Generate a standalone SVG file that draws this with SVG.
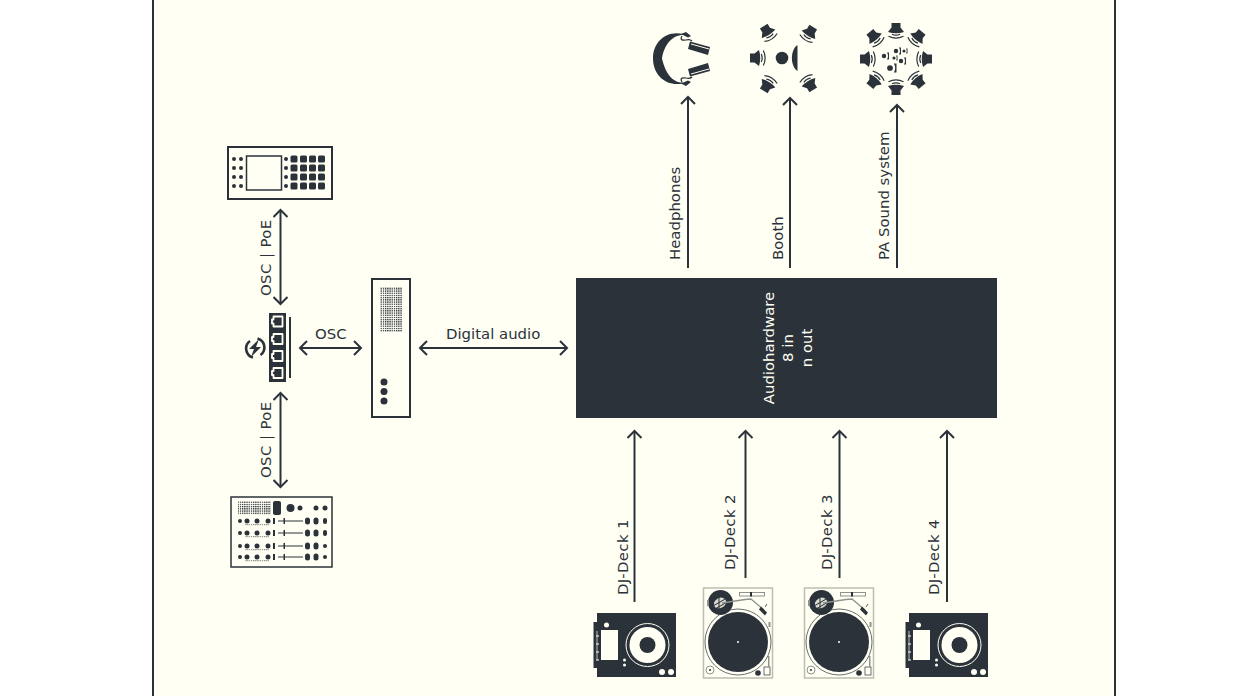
<svg xmlns="http://www.w3.org/2000/svg" width="1238" height="696" viewBox="0 0 1238 696">
<style>
text{font-family:"DejaVu Sans","Open Sans",sans-serif;font-size:14.9px;fill:#2b323a}
.ls{letter-spacing:.4px}
.f{fill:#2b323a}
.w{fill:#fffff3}
.s{fill:none;stroke:#2b323a;stroke-width:2}
.t{fill:none;stroke:#2b323a;stroke-width:1.200}
.wl{fill:none;stroke:#fffff3;stroke-width:1}
.c{fill:none;stroke:#2b323a;stroke-width:2;marker-end:url(#h)}
.d{fill:none;stroke:#2b323a;stroke-width:2;marker-start:url(#hs);marker-end:url(#h)}
</style>
<defs>
<marker id="h" markerUnits="userSpaceOnUse" markerWidth="14" markerHeight="16" refX="9" refY="8" orient="auto"><path d="M2 1L9 8L2 15" fill="none" stroke="#2b323a" stroke-width="2"/></marker>
<marker id="hs" markerUnits="userSpaceOnUse" markerWidth="14" markerHeight="16" refX="9" refY="8" orient="auto-start-reverse"><path d="M2 1L9 8L2 15" fill="none" stroke="#2b323a" stroke-width="2"/></marker>
<pattern id="grid" width="2.2" height="2.2" patternUnits="userSpaceOnUse"><rect width="1.3" height="1.3" fill="#2b323a"/></pattern>
<g id="spk"><path class="f" d="M-8-4.500L-3.500-4.500L1-8Q3.500 0 1 8L-3.500 4.500L-8 4.500Z"/><path class="t" d="M3.300-4Q5.100 0 3.300 4M5.300-7.500Q9 0 5.300 7.500"/></g>
<g id="per"><circle class="f" cx="0" cy="0" r="2.200"/><path class="f" d="M3-3.500Q5 0 3 3.500L5 3.500L5-3.500Z"/></g>
<g id="tt">
<rect x="703.500" y="588" width="69" height="90" fill="none" stroke="#bdbdb0" stroke-width="1.500"/>
<circle class="f" cx="738" cy="642" r="30"/>
<circle cx="738" cy="642" r="33" fill="none" stroke="#2b323a" stroke-width=".7"/>
<circle class="w" cx="738" cy="642" r="1"/>
<circle class="f" cx="720.500" cy="602.500" r="12.500"/>
<ellipse cx="720" cy="603" rx="6.500" ry="5" fill="#d9dad0" transform="rotate(-30 720 603)"/>
<path d="M713 606L727 598M715 609L729 601M719 596V610" fill="none" stroke="#2b323a" stroke-width="1"/>
<rect x="707" y="600" width="2" height="6" fill="#8f938f"/>
<path d="M722 603L745 599.500L751 599L764 610" fill="none" stroke="#8f938f" stroke-width="1.300"/>
<path class="f" d="M761 606.500L767 612.500L765 615.500L759 609.500Z"/>
<path d="M765 607L767 604" stroke="#2b323a" stroke-width=".8"/>
<rect x="739.500" y="592.500" width="25" height="3.500" fill="none" stroke="#8f938f" stroke-width="1"/>
<rect x="750" y="592" width="2" height="4.500" class="f"/>
<circle cx="710" cy="670" r="4" fill="none" stroke="#8f938f" stroke-width="1"/><circle cx="710" cy="670" r="1" class="f"/>
<circle class="f" cx="758" cy="673" r="2.800"/>
<rect x="764" y="667" width="6" height="8" fill="none" stroke="#2b323a" stroke-width=".7"/>
<rect x="768" y="656" width="1.500" height="11" fill="#8f938f"/>
<rect x="768.500" y="622" width="2" height="5" fill="#8f938f"/>
</g>
<g id="cdj">
<path class="f" d="M597 613H676V677H597V668H593.500V622H597Z"/>
<rect class="w" x="601" y="630" width="17" height="30"/>
<path d="M596 636H599M596 644H599M596 652H599M596 660H599" stroke="#fffff3" stroke-width="1.200"/>
<path d="M597 631V660" stroke="#fffff3" stroke-width=".7"/>
<circle class="w" cx="606.500" cy="625" r="2.500"/>
<circle cx="647.500" cy="645" r="21.500" fill="none" stroke="#fffff3" stroke-width="1"/>
<circle class="w" cx="647.500" cy="645" r="18"/>
<circle class="f" cx="647.500" cy="645" r="8"/>
<circle class="w" cx="624.500" cy="660" r="1.500"/><circle class="w" cx="624.500" cy="665" r="1.500"/>
<circle class="w" cx="662" cy="672" r="3"/><circle class="w" cx="671" cy="672" r="3"/>
</g>
<g id="row">
<circle class="f" cx="240" cy="0" r="2"/><circle class="f" cx="247" cy="0" r="2.500"/><circle class="f" cx="257" cy="0" r="2.500"/><circle class="f" cx="268" cy="0" r="2.500"/>
<rect class="f" x="273" y="-3" width="2" height="6"/>
<path d="M278 0H303" stroke="#2b323a" stroke-width="1"/><rect class="f" x="283.500" y="-3" width="1.500" height="6"/>
<rect class="f" x="305" y="-3.500" width="5" height="7" rx="2.500"/><rect class="f" x="313.500" y="-3.500" width="5" height="7" rx="2.500"/>
<rect x="245" y="3" width="24" height="1.200" fill="url(#grid)"/>
</g>
<g id="port"><path d="M-4-5H5V5H-4V2H-5.500V-2H-4Z" fill="#2b323a" stroke="#fffff3" stroke-width="1.800" stroke-linejoin="round"/></g>
</defs>

<rect x="0" y="0" width="1238" height="696" fill="#ffffff"/>
<rect x="153" y="-10" width="962" height="716" fill="#fffff3" stroke="#2b323a" stroke-width="2"/>

<g id="connectors">
<path class="c" d="M688 268V97"/>
<path class="c" d="M790 268V98"/>
<path class="c" d="M897 268V105"/>
<path class="c" d="M634.500 602V431"/>
<path class="c" d="M745.500 578V431"/>
<path class="c" d="M839.500 578V431"/>
<path class="c" d="M947 602V431"/>
<path class="d" d="M280.500 304V210"/>
<path class="d" d="M280.500 487V393"/>
<path class="d" d="M361 348H300"/>
<path class="d" d="M567 348H420"/>
</g>
<g id="connector-labels">
<text class="ls" transform="translate(271 296) rotate(-90)">OSC | PoE</text>
<text class="ls" transform="translate(271 478) rotate(-90)">OSC | PoE</text>
<text x="315" y="339">OSC</text>
<text x="446" y="339">Digital audio</text>
<text transform="translate(680 260) rotate(-90)">Headphones</text>
<text transform="translate(783 260) rotate(-90)">Booth</text>
<text transform="translate(889 260) rotate(-90)">PA Sound system</text>
<text class="ls" transform="translate(628 595) rotate(-90)">DJ-Deck 1</text>
<text class="ls" transform="translate(735 570) rotate(-90)">DJ-Deck 2</text>
<text class="ls" transform="translate(832 570) rotate(-90)">DJ-Deck 3</text>
<text class="ls" transform="translate(939 595) rotate(-90)">DJ-Deck 4</text>
</g>

<g id="audio-hardware">
<rect class="f" x="576" y="278" width="421" height="140"/>
<g text-anchor="middle">
<text transform="translate(774 348) rotate(-90)" style="fill:#fffff3">Audiohardware</text>
<text transform="translate(793 348) rotate(-90)" style="fill:#fffff3">8 in</text>
<text transform="translate(812 348) rotate(-90)" style="fill:#fffff3">n out</text>
</g>
</g>

<g id="headphones">
<path class="f" d="M683 34C666 30 653 42 653 58.500C653 75 666 87 683 83.500L683 82.500C672 83 665 72 662 58.500C664 45 672 35 683 35Z"/>
<path class="f" d="M681 34L686 32L691 36L688 37.500ZM681 83.500L686 86L691 82L688 80.500Z"/>
<path class="t" d="M682 36Q679 41 686 40Q690 39 692 41M682 82Q679 77 686 78Q690 79 692 77"/>
<path class="f" d="M690 41.500L710 47L708 55L688 49ZM688 69L708 63L710 71L690 76.500Z"/>
<path class="wl" d="M691 44L709 49M691 74L709 69"/>
</g>

<g id="booth">
<use href="#spk" transform="translate(758 58)"/>
<use href="#spk" transform="translate(768 33) rotate(58)"/>
<use href="#spk" transform="translate(809 34) rotate(122)"/>
<use href="#spk" transform="translate(768 84) rotate(-58)"/>
<use href="#spk" transform="translate(809 83) rotate(-122)"/>
<circle class="f" cx="782" cy="58" r="6.300"/>
<path class="f" d="M797.500 45C790 50 790 66 797.500 71Z"/>
</g>

<g id="pa">
<use href="#spk" transform="translate(868 59)"/>
<use href="#spk" transform="translate(924 59) rotate(180)"/>
<use href="#spk" transform="translate(896 31) rotate(90)"/>
<use href="#spk" transform="translate(896 87) rotate(-90)"/>
<use href="#spk" transform="translate(875 38) rotate(50)"/>
<use href="#spk" transform="translate(917 38) rotate(130)"/>
<use href="#spk" transform="translate(875 80) rotate(-50)"/>
<use href="#spk" transform="translate(917 80) rotate(-130)"/>
<use href="#per" transform="translate(884 56)"/>
<use href="#per" transform="translate(894 58) scale(.7)"/>
<use href="#per" transform="translate(896 51)"/>
<use href="#per" transform="translate(904 51) scale(.7)"/>
<use href="#per" transform="translate(901 61)"/>
<use href="#per" transform="translate(890 68) scale(1.300)"/>
</g>

<g id="controller">
<rect x="228" y="147" width="104" height="52" fill="none" stroke="#2b323a" stroke-width="2"/>
<rect x="246.500" y="156" width="35" height="34" fill="none" stroke="#2b323a" stroke-width="1.500"/>
<g class="f">
<circle cx="234" cy="159" r="2"/><circle cx="241" cy="159" r="2"/><circle cx="286" cy="159" r="2"/>
<circle cx="234" cy="168" r="2"/><circle cx="241" cy="168" r="2"/><circle cx="286" cy="168" r="2"/>
<circle cx="234" cy="177" r="2"/><circle cx="241" cy="177" r="2"/><circle cx="286" cy="177" r="2"/>
<circle cx="234" cy="186" r="2"/><circle cx="241" cy="186" r="2"/><circle cx="286" cy="186" r="2"/>
<rect x="290.500" y="155.500" width="7" height="7" rx="1.500"/><rect x="300" y="155.500" width="7" height="7" rx="1.500"/><rect x="309" y="155.500" width="7" height="7" rx="1.500"/><rect x="318" y="155.500" width="7" height="7" rx="1.500"/>
<rect x="290.500" y="164.500" width="7" height="7" rx="1.500"/><rect x="300" y="164.500" width="7" height="7" rx="1.500"/><rect x="309" y="164.500" width="7" height="7" rx="1.500"/><rect x="318" y="164.500" width="7" height="7" rx="1.500"/>
<rect x="290.500" y="173.500" width="7" height="7" rx="1.500"/><rect x="300" y="173.500" width="7" height="7" rx="1.500"/><rect x="309" y="173.500" width="7" height="7" rx="1.500"/><rect x="318" y="173.500" width="7" height="7" rx="1.500"/>
<rect x="290.500" y="182.500" width="7" height="7" rx="1.500"/><rect x="300" y="182.500" width="7" height="7" rx="1.500"/><rect x="309" y="182.500" width="7" height="7" rx="1.500"/><rect x="318" y="182.500" width="7" height="7" rx="1.500"/>
</g>
</g>

<g id="mixer">
<rect x="231" y="497" width="101" height="70" fill="none" stroke="#2b323a" stroke-width="1.500"/>
<rect x="238" y="501" width="33" height="14" fill="url(#grid)"/>
<rect class="f" x="273" y="501" width="8" height="14" rx="2"/>
<circle class="f" cx="290.500" cy="508" r="4"/><circle class="f" cx="300" cy="508" r="2.500"/><circle class="f" cx="316" cy="508" r="2.500"/><circle class="f" cx="325" cy="508" r="2.500"/>
<use href="#row" y="521"/><use href="#row" y="533"/><use href="#row" y="546"/><use href="#row" y="557"/>
<rect class="f" x="323" y="518" width="4" height="6" rx="2"/><rect class="f" x="323" y="530" width="4" height="6" rx="2"/>
<circle class="f" cx="325" cy="546" r="2"/><circle class="f" cx="325" cy="557" r="2"/>
</g>

<g id="switch">
<rect class="f" x="269" y="313" width="17" height="69"/>
<rect class="f" x="289" y="317" width="2" height="61"/>
<use href="#port" transform="translate(277.500 321.500)"/>
<use href="#port" transform="translate(277.500 339)"/>
<use href="#port" transform="translate(277.500 356)"/>
<use href="#port" transform="translate(277.500 373)"/>
<path d="M250 341A9.300 9.300 0 0 0 253 357.500M260.500 355A9.300 9.300 0 0 0 257.500 338.500" fill="none" stroke="#2b323a" stroke-width="2.600"/>
<path class="f" d="M259 339L249 349H254L251 357L261 347H256Z"/>
</g>

<g id="computer">
<rect x="372" y="279" width="38" height="138" fill="none" stroke="#2b323a" stroke-width="2"/>
<rect x="380" y="287" width="22" height="45" fill="url(#grid)"/>
<circle class="f" cx="384" cy="382" r="3.500"/><circle class="f" cx="384" cy="391.500" r="3.500"/><circle class="f" cx="384" cy="401" r="3.500"/>
</g>

<use id="deck-1" href="#cdj"/>
<use id="deck-2" href="#tt"/>
<use id="deck-3" href="#tt" x="101"/>
<use id="deck-4" href="#cdj" x="312"/>
</svg>
